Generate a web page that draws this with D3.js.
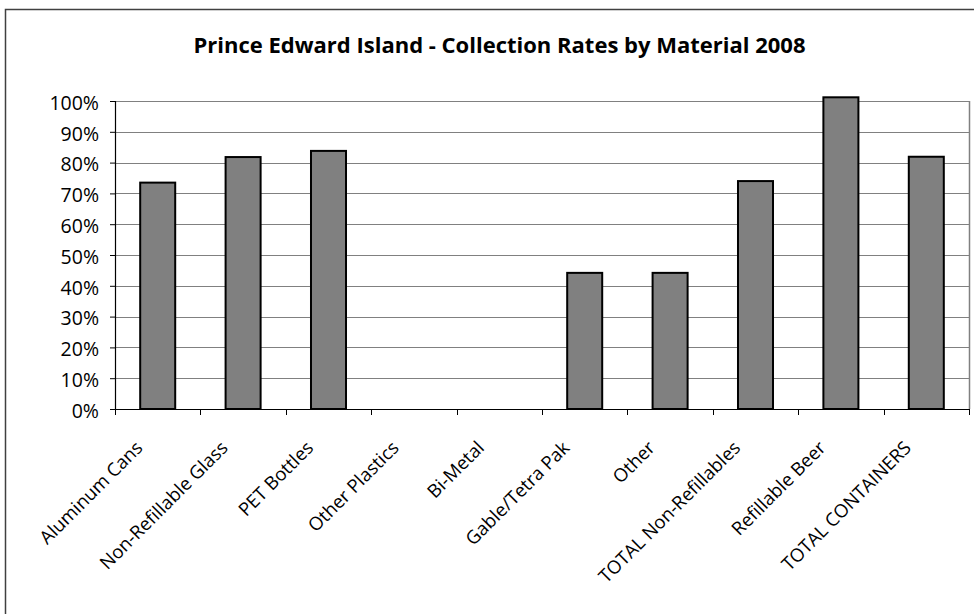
<!DOCTYPE html>
<html>
<head>
<meta charset="utf-8">
<script src="https://cdn.jsdelivr.net/npm/d3@7"></script>
<style>
  html, body { margin: 0; padding: 0; background: #fff; }
  svg { display: block; }
  text { font-family: "Open Sans", sans-serif; fill: #000; }
</style>
</head>
<body>
<svg id="chart" width="974" height="614"></svg>
<script>
const titleText = "Prince Edward Island - Collection Rates by Material 2008";
const categories = ["Aluminum Cans", "Non-Refillable Glass", "PET Bottles", "Other Plastics", "Bi-Metal",
  "Gable/Tetra Pak", "Other", "TOTAL Non-Refillables", "Refillable Beer", "TOTAL CONTAINERS"];
const rates = [0.735, 0.818, 0.838, 0, 0, 0.442, 0.442, 0.74, 1.012, 0.819];
const yTicks = [0, 0.1, 0.2, 0.3, 0.4, 0.5, 0.6, 0.7, 0.8, 0.9, 1.0];

const svg = d3.select("#chart");
const plot = { left: 115, right: 969, top: 101, bottom: 409 };

// outer chart border
svg.append("rect")
  .attr("x", 5.5).attr("y", 9.5).attr("width", 1000).attr("height", 700)
  .attr("fill", "none").attr("stroke", "#404040").attr("stroke-width", 1.5);

const x = d3.scaleBand().domain(categories).range([plot.left, plot.right]).paddingInner(0.59).paddingOuter(0.295);
const xb = d3.scaleBand().domain(categories).range([plot.left, plot.right]);
const y = d3.scaleLinear().domain([0, 1]).range([plot.bottom, plot.top]);

// gridlines
svg.append("g").selectAll("line").data(yTicks.filter(d => d > 0)).join("line")
  .attr("x1", plot.left).attr("x2", plot.right)
  .attr("y1", d => Math.round(y(d)) + 0.5).attr("y2", d => Math.round(y(d)) + 0.5)
  .attr("stroke", "#808080").attr("stroke-width", 1);
// right border of plot area
svg.append("line")
  .attr("x1", plot.right + 0.5).attr("x2", plot.right + 0.5)
  .attr("y1", plot.top).attr("y2", plot.bottom)
  .attr("stroke", "#808080").attr("stroke-width", 1.5);

// bars
svg.append("g").selectAll("rect").data(categories).join("rect")
  .attr("x", d => x(d))
  .attr("width", x.bandwidth())
  .attr("y", (d, i) => y(rates[i]))
  .attr("height", (d, i) => y(0) - y(rates[i]))
  .attr("fill", "#808080").attr("stroke", "#000").attr("stroke-width", 2);

// y axis
const yAxis = d3.axisLeft(y).tickValues(yTicks).tickFormat(d3.format(".0%")).tickSizeOuter(0).tickSize(5).tickPadding(11);
const gy = svg.append("g").attr("transform", `translate(${plot.left},0)`).call(yAxis);
gy.select(".domain").attr("stroke", "#000").attr("stroke-width", 1.2);
gy.selectAll(".tick line").attr("stroke", "#000");
gy.selectAll(".tick text").attr("font-size", 19.5).attr("font-family", "Open Sans").attr("dy", "0.42em");

// x axis
const gx = svg.append("g").attr("transform", `translate(0,${plot.bottom})`);
gx.append("line").attr("x1", plot.left).attr("x2", plot.right).attr("y1", 0.5).attr("y2", 0.5)
  .attr("stroke", "#000").attr("stroke-width", 1.2);
const boundaries = categories.map(c => xb(c)).concat([plot.right]);
gx.selectAll("line.tk").data(boundaries).join("line").attr("class", "tk")
  .attr("x1", d => Math.round(d) + 0.5).attr("x2", d => Math.round(d) + 0.5)
  .attr("y1", 0).attr("y2", 6).attr("stroke", "#000");
gx.selectAll("text").data(categories).join("text")
  .attr("transform", d => `translate(${xb(d) + xb.bandwidth() / 2 - 14},${40}) rotate(-45)`)
  .attr("text-anchor", "end")
  .attr("font-size", 18.5)
  .text(d => d);

// title
svg.append("text")
  .attr("x", 499.5).attr("y", 53)
  .attr("text-anchor", "middle")
  .attr("font-size", 22).attr("font-weight", "bold")
  .text(titleText);
</script>
</body>
</html>
